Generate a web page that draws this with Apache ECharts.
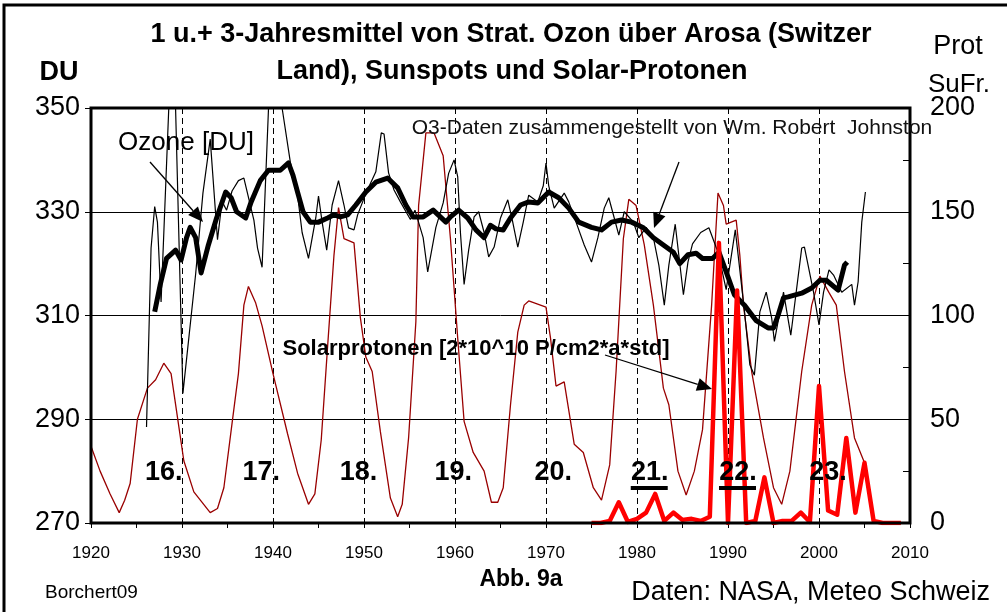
<!DOCTYPE html>
<html><head><meta charset="utf-8">
<script src="https://cdn.jsdelivr.net/npm/echarts@6/dist/echarts.min.js"></script>
<style>html,body{margin:0;padding:0;background:#fff}#c{width:1007px;height:612px}</style>
</head><body><div id="c"></div>
<script>
// ---- data (year, value) ----
const sunspots = [[1920,37],[1921,25],[1922.1,14],[1923.1,5],[1923.7,11],[1924.3,19],[1925.1,50],[1926.2,65],[1927.1,69],[1928,77],[1928.8,72],[1929.7,45],[1930.2,30],[1931.3,15],[1933.1,5],[1933.9,7],[1934.6,17],[1935.5,48],[1936.2,72],[1936.8,105],[1937.3,114],[1938.1,106],[1938.8,95],[1940,72],[1941.6,43],[1942.7,24],[1943.9,9],[1944.6,14],[1945.3,40],[1946,85],[1946.7,129],[1947.2,152],[1947.8,137],[1948.9,135],[1949.6,99],[1950.2,80],[1950.9,73],[1951.8,44],[1952.9,12],[1953.7,3],[1954.2,9],[1954.9,41],[1955.7,97],[1956,153],[1956.8,188],[1957.7,188],[1958.7,177],[1959.5,137],[1960.3,89],[1961,49],[1962,34],[1963.2,25],[1964,10],[1964.7,10],[1965.3,17],[1966.1,57],[1966.9,92],[1967.6,105],[1968.1,107],[1970,104],[1970.5,89],[1971.1,66],[1972,68],[1973.1,38],[1974.1,34],[1975.2,17],[1976.1,11],[1977,28],[1977.7,73],[1978.5,137],[1979.1,156],[1979.9,153],[1980.8,134],[1981.8,105],[1982.9,65],[1983.5,57],[1984.5,25],[1985.4,13.5],[1986.3,25],[1987.2,45],[1988.2,105],[1988.9,159],[1989.5,153],[1989.8,144],[1990.9,146],[1991.3,129],[1991.7,105],[1992.6,73],[1993.9,41],[1995,17],[1995.9,9],[1996.8,25],[1998.1,73],[1999.2,105],[2000.1,119],[2001.1,111],[2001.9,105],[2002.8,73],[2003.9,41],[2005,29]];

const ozoneYearly = [[1926.1,288.5],[1926.6,323],[1927.0,331],[1927.3,328],[1927.7,312.6],[1929.0,370],[1930.1,295],[1931.5,318],[1932.3,333.6],[1933.1,344],[1933.9,324.6],[1934.4,332],[1934.9,330.3],[1935.5,334],[1936.2,336],[1936.8,336.5],[1937.9,328.4],[1938.3,323],[1938.8,319.3],[1940.2,380],[1941.0,350],[1941.9,339.6],[1942.7,333.2],[1943.2,326],[1943.9,321],[1944.7,328.8],[1945,333],[1945.4,328],[1945.9,322.6],[1946.5,331.3],[1947.2,336],[1947.8,331.3],[1948.3,326.9],[1948.9,326.5],[1949.3,329.4],[1950.2,333.5],[1951.3,337.7],[1951.9,345.2],[1952.2,345],[1952.7,337.5],[1953.3,334.2],[1954,331.9],[1955.1,328.5],[1955.6,330.3],[1956.5,325],[1957,318.4],[1957.9,327],[1958.7,331.7],[1959.3,337.4],[1959.9,340],[1960.3,336.7],[1960.6,325.9],[1961,316],[1961.5,322.6],[1962.1,329],[1962.6,330],[1963.2,326],[1963.7,321.3],[1964.3,323.2],[1965,328.8],[1965.8,332.3],[1966.3,328.4],[1966.9,323.2],[1967.5,328],[1968.1,333.2],[1969.1,331.9],[1969.7,335],[1970,339.4],[1970.3,335],[1970.9,330.7],[1972,333.6],[1972.5,331.9],[1973.3,328],[1974.2,323.6],[1975,320.3],[1975.7,325],[1976.4,330.7],[1976.9,332.7],[1977.5,328.8],[1978,325.5],[1978.6,330],[1979.6,328],[1980.2,325],[1981,327],[1981.8,325],[1982.4,319.7],[1983,312],[1983.5,319.7],[1984.2,327.6],[1985.1,314],[1985.6,320.3],[1986.1,323.8],[1987,326],[1987.9,326.9],[1988.9,322.2],[1989.8,315],[1990.8,326.5],[1991.8,311],[1992.4,300.5],[1992.9,298.5],[1993.5,310.7],[1994.2,314.5],[1994.8,309.5],[1995.1,305],[1996.1,314.5],[1996.9,306.2],[1998.1,323],[1998.4,323.2],[1999.4,314.5],[2000,308.2],[2000.5,314.5],[2001.1,318.8],[2001.6,317.8],[2002.5,314.5],[2003.6,316],[2003.9,312],[2004.3,316.5],[2004.7,328],[2005.1,333.8]];

const ozone3yr = [[1927,310.7],[1927.6,315.9],[1928.3,321],[1929.3,322.6],[1929.9,320.7],[1930.5,325],[1930.9,327],[1931.5,325],[1932.1,318.2],[1932.9,323.6],[1933.8,328.8],[1934.8,333.8],[1935.4,332.7],[1936,330],[1937,328.8],[1937.6,331.9],[1938.6,336],[1939.5,338],[1940.8,338],[1941.7,339.4],[1942.2,337],[1942.7,333.8],[1943.3,330],[1944.1,328],[1945,328],[1946,328.8],[1946.7,329.4],[1947.4,329],[1948.2,329.4],[1949.1,331.3],[1950.2,333.8],[1951.3,335.7],[1952.6,336.5],[1953.7,334.6],[1954.6,331.3],[1955.4,329],[1956.5,329],[1957.6,330.3],[1959,328],[1959.5,329],[1960.4,330.3],[1961.4,328.8],[1962.3,326.5],[1963.2,325],[1963.9,327.4],[1964.5,326.7],[1965.3,326.5],[1966.1,328.8],[1967.2,331.3],[1968.1,331.9],[1969.1,331.7],[1970.3,333.8],[1971.4,332.7],[1972.5,330.7],[1973.6,328],[1975,327],[1976.1,326.5],[1977.2,328],[1978.3,328.4],[1979.4,328],[1980.7,326.9],[1981.8,325],[1982.9,323.6],[1984,322.2],[1984.7,320],[1985.6,321.7],[1986.5,322],[1987.2,321],[1988.3,321],[1989,322.2],[1989.8,318.4],[1990.7,314],[1991.8,312],[1993.1,309],[1994.4,307.6],[1995,307.6],[1995.5,310],[1996.1,313.4],[1996.6,313.6],[1998.1,314.3],[1999.2,315.3],[2000.1,316.8],[2000.8,316.8],[2002.1,314.9],[2002.8,319.7],[2003.1,320.3]];

const protonYears = [1975,1976,1977,1978,1979,1980,1981,1982,1983,1984,1985,1986,1987,1988,1989,1990,1991,1992,1993,1994,1995,1996,1997,1998,1999,2000,2001,2002,2003,2004,2005,2006,2007,2008,2009];
const protonValues = [0,0,1,10,0.5,2,5,14,1,5,1.5,2,1,3,135,0,112,0,1,22,0,1,1,5,0.5,66,6,4,41,5,29,1,0,0,0];

const cycleLabels = ['16.','17.','18.','19.','20.','21.','22.','23.'];
const cycleYears = [1928,1938.7,1949.4,1959.8,1970.8,1981.4,1991.1,2001];
const underlinedCycles = ['21.','22.'];
const rightTicks = [0,50,100,150,200];

const titleLines = ['1 u.+ 3-Jahresmittel von Strat. Ozon über Arosa (Switzer','Land), Sunspots und Solar-Protonen'];

const FONT = 'Liberation Sans, Arial, sans-serif';
const chart = echarts.init(document.getElementById('c'), null, {renderer:'canvas'});

function arrow(x1,y1,x2,y2,len,half){
  const a = Math.atan2(y2-y1,x2-x1);
  const bx = x2 - len*Math.cos(a), by = y2 - len*Math.sin(a);
  const px = -Math.sin(a)*half, py = Math.cos(a)*half;
  return [
    {type:'line', shape:{x1:x1,y1:y1,x2:bx,y2:by}, style:{stroke:'#000',lineWidth:1.3}, z:50},
    {type:'polygon', shape:{points:[[x2,y2],[bx+px,by+py],[bx-px,by-py]]}, style:{fill:'#000'}, z:50}
  ];
}
function txt(x,y,t,size,bold,align,color){
  return {type:'text', x:x, y:y, z:60, style:{text:t, fill:color||'#000', font:(bold?'bold ':'')+size+'px '+FONT, textAlign:align||'center', textVerticalAlign:'middle'}};
}

const option = {
  animation:false,
  backgroundColor:'#fff',
  grid:{left:91, right:97, top:108, bottom:89, show:true, borderColor:'#000', borderWidth:3, backgroundColor:'transparent', z:10},
  xAxis:{type:'value', min:1920, max:2010, interval:10,
    axisLine:{show:false},
    axisTick:{show:true, length:5, lineStyle:{color:'#000'}},
    minorTick:{show:true, splitNumber:2, length:5, lineStyle:{color:'#000'}},
    axisLabel:{color:'#000', fontSize:17, fontFamily:FONT, margin:22, formatter:v=>String(v)},
    splitLine:{show:true, lineStyle:{color:'#000', type:[6,4], width:1}}},
  yAxis:[
    {type:'value', min:270, max:350, interval:20, position:'left',
      axisLine:{show:false},
      axisTick:{show:true, length:6, lineStyle:{color:'#000'}},
      axisLabel:{color:'#000', fontSize:27, fontFamily:FONT, margin:11, formatter:v=>String(v)},
      splitLine:{show:true, lineStyle:{color:'#000', width:1}}},
    {type:'value', min:0, max:200, interval:25, position:'right',
      axisLine:{show:false},
      axisTick:{show:true, inside:true, length:7, lineStyle:{color:'#000'}},
      axisLabel:{color:'#000', fontSize:27, fontFamily:FONT, margin:20, formatter:v=> rightTicks.includes(v)? String(v):''},
      splitLine:{show:false}}
  ],
  series:[
    {type:'line', yAxisIndex:1, data:sunspots, symbol:'none', lineStyle:{color:'#990000', width:1.3}, z:2},
    {type:'line', yAxisIndex:0, data:ozoneYearly, symbol:'none', lineStyle:{color:'#000', width:1.2}, z:3},
    {type:'line', yAxisIndex:0, data:ozone3yr, symbol:'none', lineStyle:{color:'#000', width:5, join:'round'}, z:4},
    {type:'line', yAxisIndex:1, data:protonYears.map((y,i)=>[y,protonValues[i]]), symbol:'none', lineStyle:{color:'#ff0000', width:4.5, join:'round'}, z:5}
  ]
};
chart.setOption(option);

const g = [];
g.push({type:'rect', shape:{x:4,y:5,width:1020,height:640}, style:{fill:'none', stroke:'#000', lineWidth:3}, z:1});
g.push(txt(511,35,titleLines[0],27,true));
g.push(txt(512,72,titleLines[1],27,true));
g.push(txt(59,73,'DU',27,true));
g.push(txt(958,47,'Prot',27,false));
g.push(txt(959,85,'SuFr.',26,false));
g.push(txt(186,143,'Ozone [DU]',26,false));
g.push(...arrow(150,162,203,222,15,6.5));
g.push(txt(672,128,'O3-Daten zusammengestellt von Wm. Robert  Johnston',21,false,'center','#111'));
g.push(...arrow(679,162,654,228,15,6.5));
g.push(txt(476,349,'Solarprotonen [2*10^10 P/cm2*a*std]',22,true));
g.push(...arrow(605,355,712,389,15,6.5));
cycleLabels.forEach((c,i)=>{
  const p = chart.convertToPixel({xAxisIndex:0,yAxisIndex:0},[cycleYears[i],270]);
  g.push(txt(p[0],473,c,27,true));
  if (underlinedCycles.includes(c)) {
    g.push({type:'line', shape:{x1:p[0]-19,y1:488,x2:p[0]+18,y2:488}, style:{stroke:'#000',lineWidth:4}, z:60});
  }
});
g.push(txt(45,593,'Borchert09',19,false,'left'));
g.push(txt(521,580,'Abb. 9a',23,true));
g.push(txt(990,593,'Daten: NASA, Meteo Schweiz',27,false,'right'));
chart.setOption({graphic:g});
</script></body></html>
